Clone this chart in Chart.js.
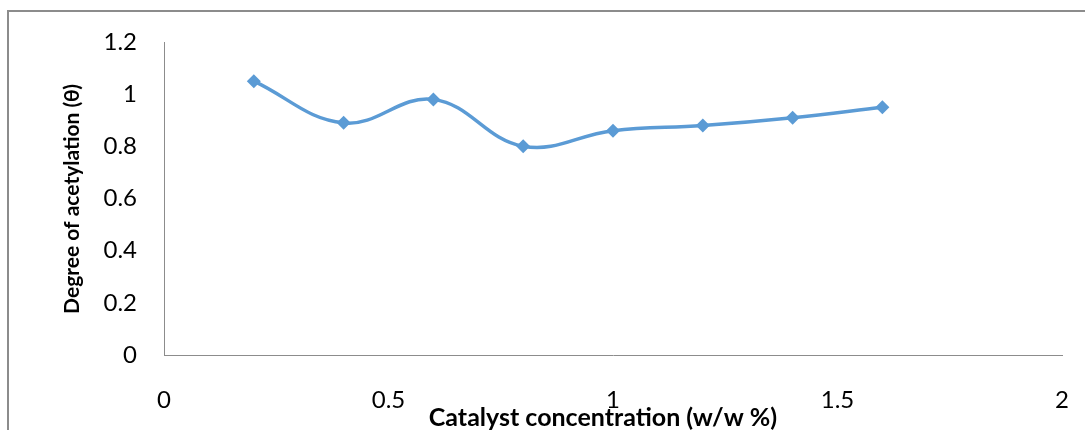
<!DOCTYPE html>
<html>
<head>
<meta charset="utf-8">
<script src="https://cdn.jsdelivr.net/npm/chart.js@4/dist/chart.umd.min.js"></script>
<style>
    html, body { margin: 0; padding: 0; background: #fff; }
    #wrap { position: relative; width: 1085px; height: 430px; }
    #frame { position: absolute; left: 7px; top: 10px; right: 0; bottom: 0; border-top: 2px solid #8c8c8c; border-left: 2px solid #8c8c8c; }
    canvas { position: absolute; left: 0; top: 0; }
</style>
</head>
<body>
<div id="wrap">
    <div id="frame"></div>
    <canvas id="acetylChart" width="1085" height="430"></canvas>
</div>
<script>
const catalystConc = [0.2, 0.4, 0.6, 0.8, 1.0, 1.2, 1.4, 1.6];
const degreeAcetyl = [1.05, 0.89, 0.98, 0.80, 0.86, 0.88, 0.91, 0.95];
const xTicks = [0, 0.5, 1, 1.5, 2];
const yTicks = [0, 0.2, 0.4, 0.6, 0.8, 1, 1.2];
const xTitle = 'Catalyst concentration (w/w %)';
const yTitle = 'Degree of acetylation (θ)';

const fontName = 'Lato, "Open Sans", sans-serif';
const lineColor = '#5b9bd5';
const axisColor = '#8c8c8c';

// axis titles drawn by hand so they sit where the original has them
const axisTitles = {
    id: 'axisTitles',
    afterDraw(chart) {
        const c = chart.ctx;
        c.save();
        c.fillStyle = '#000';
        c.textAlign = 'center';
        c.textBaseline = 'middle';
        c.font = 'bold 25px ' + fontName;
        c.fillText(xTitle, 603, 418);
        c.font = 'bold 21px ' + fontName;
        c.translate(72, 199);
        c.rotate(-Math.PI / 2);
        c.fillText(yTitle, 0, 0);
        c.restore();
    }
};

const ctx = document.getElementById('acetylChart').getContext('2d');
const acetylChart = new Chart(ctx, {
    type: 'line',
    data: {
        datasets: [{
            label: 'Degree of acetylation',
            data: catalystConc.map((x, i) => ({ x: x, y: degreeAcetyl[i] })),
            borderColor: lineColor,
            backgroundColor: lineColor,
            borderWidth: 3.5,
            tension: 0.4,
            pointStyle: 'rectRot',
            pointRadius: 7,
            pointBorderWidth: 0,
            fill: false
        }]
    },
    options: {
        responsive: false,
        animation: false,
        layout: { autoPadding: false, padding: { top: 42, right: 23, left: 0, bottom: 0 } },
        plugins: {
            legend: { display: false },
            tooltip: { enabled: false }
        },
        scales: {
            x: {
                type: 'linear',
                min: 0,
                max: 2,
                afterBuildTicks: scale => { scale.ticks = xTicks.map(v => ({ value: v })); },
                afterFit: scale => {
                    scale.height = 75;
                    // tick padding would otherwise push the right edge in
                    scale.paddingLeft = 0;
                    scale.paddingRight = 0;
                },
                grid: { display: false, drawTicks: false },
                border: { display: true, color: axisColor, width: 1 },
                ticks: {
                    padding: 31,
                    color: '#000',
                    font: { family: fontName, size: 24 },
                    callback: v => String(v)
                }
            },
            y: {
                min: 0,
                max: 1.2,
                afterBuildTicks: scale => { scale.ticks = yTicks.map(v => ({ value: v })); },
                afterFit: scale => {
                    scale.width = 164;
                    scale.paddingTop = 0;
                    scale.paddingBottom = 0;
                },
                grid: { display: false, drawTicks: false },
                border: { display: true, color: axisColor, width: 1 },
                ticks: {
                    padding: 27,
                    color: '#000',
                    font: { family: fontName, size: 24 },
                    callback: v => String(Math.round(v * 10) / 10)
                }
            }
        }
    },
    plugins: [axisTitles]
});
</script>
</body>
</html>
